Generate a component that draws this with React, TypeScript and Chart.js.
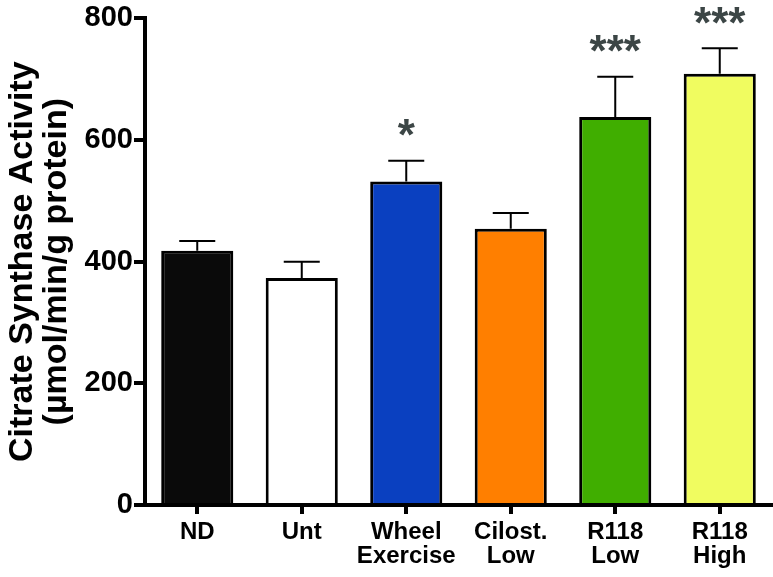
import React, { useEffect, useRef } from "react";
import { Chart, registerables } from "chart.js";

Chart.register(...registerables);

const categories: string[][] = [["ND"], ["Unt"], ["Wheel", "Exercise"], ["Cilost.", "Low"], ["R118", "Low"], ["R118", "High"]];
const means: number[] = [418, 373, 532, 454, 638, 709];
const sem: number[] = [16, 27, 34, 26, 66, 42];
const significance: string[] = ["", "", "*", "", "***", "***"];
const barColors: string[] = ["#0a0a0a", "#ffffff", "#0a40c0", "#ff7f00", "#40ae00", "#f0fc60"];
const yTitle: string[] = ["Citrate Synthase Activity", "(µmol/min/g protein)"];
const yMin = 0;
const yMax = 800;
const yStep = 200;

const FONT = "'Liberation Sans', Arial, Helvetica, sans-serif";

const errorBarPlugin = {
  id: "errorBars",
  afterDatasetsDraw(chart: any) {
    const ctx = chart.ctx;
    const meta = chart.getDatasetMeta(0);
    const y = chart.scales.y;
    ctx.save();
    meta.data.forEach((bar: any, i: number) => {
      const x = bar.x;
      const top = y.getPixelForValue(means[i]);
      const cap = y.getPixelForValue(means[i] + sem[i]);
      ctx.strokeStyle = "#000";
      ctx.lineWidth = 2;
      ctx.beginPath();
      ctx.moveTo(x, top);
      ctx.lineTo(x, cap);
      ctx.moveTo(x - 18, cap);
      ctx.lineTo(x + 18, cap);
      ctx.stroke();
      const s = significance[i];
      if (s) {
        ctx.font = `bold 44px ${FONT}`;
        ctx.fillStyle = "#3c4646";
        ctx.textAlign = "center";
        ctx.textBaseline = "alphabetic";
        const m = ctx.measureText(s);
        const center = cap - 33;
        const base = center + (m.actualBoundingBoxAscent - m.actualBoundingBoxDescent) / 2;
        ctx.fillText(s, x, base);
      }
    });
    ctx.restore();
  },
};

export default function App() {
  const ref = useRef<HTMLCanvasElement | null>(null);
  useEffect(() => {
    document.body.style.margin = "0";
    const canvas = ref.current;
    if (!canvas) return;
    const chart = new Chart(canvas, {
      type: "bar",
      data: {
        labels: categories,
        datasets: [
          {
            data: means,
            backgroundColor: barColors,
            borderColor: "#000",
            borderWidth: 3,
            barPercentage: 0.69,
            categoryPercentage: 1,
          },
        ],
      },
      options: {
        responsive: false,
        animation: false,
        layout: { padding: { top: 18, right: 1, left: 0, bottom: 0 } },
        plugins: { legend: { display: false }, tooltip: { enabled: false } },
        scales: {
          x: {
            z: 1,
            grid: { display: true, drawOnChartArea: false, drawTicks: true, tickLength: 9, lineWidth: 4, color: "#000", offset: false },
            border: { display: true, width: 4, color: "#000" },
            ticks: { color: "#000", font: { family: FONT, size: 24, weight: "bold", lineHeight: 1.0 }, padding: 6, maxRotation: 0, autoSkip: false },
            afterFit: (scale: any) => {
              scale.height = 72;
            },
          },
          y: {
            z: 1,
            min: yMin,
            max: yMax,
            grid: { display: true, drawOnChartArea: false, drawTicks: true, tickLength: 11, lineWidth: 4, color: "#000" },
            border: { display: true, width: 4, color: "#000" },
            ticks: { stepSize: yStep, color: "#000", font: { family: FONT, size: 29, weight: "bold" }, padding: 1 },
            title: {
              display: true,
              text: yTitle,
              color: "#000",
              font: { family: FONT, size: 34, weight: "bold", lineHeight: 1.0 },
              padding: { top: 6, bottom: 0 },
            },
            afterFit: (scale: any) => {
              scale.width = 145;
            },
          },
        },
      },
      plugins: [errorBarPlugin],
    } as any);
    return () => chart.destroy();
  }, []);
  return <canvas ref={ref} width={773} height={577} style={{ display: "block" }} />;
}
